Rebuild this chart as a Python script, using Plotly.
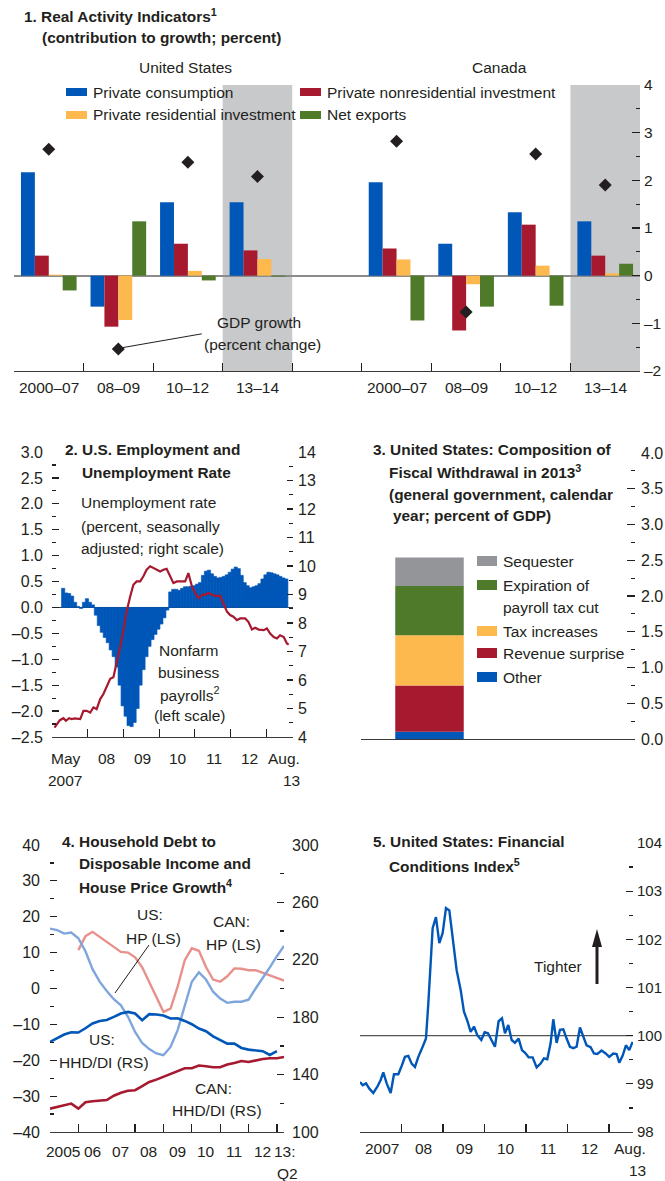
import plotly.graph_objects as go

W, H = 665, 1181
FONT = "Liberation Sans Narrow, Arial Narrow, Liberation Sans, Arial, sans-serif"
TXT = "#231f20"
BLUE = "#0057b8"
RED = "#a6192e"
YEL = "#fdb94d"
GRN = "#4e7a2a"
SHADE = "#c8c9cb"
GRAY = "#939598"
LBLUE = "#7ea6dd"
PINK = "#e8918c"
TS = 15.5   # annotation text size
BS = 15.4   # bold title size

# ---------------- Panel 1 data ----------------
p1_groups = ["2000–07", "08–09", "10–12", "13–14"]
us_consumption = [2.17, -0.65, 1.54, 1.54]
us_nonres = [0.42, -1.07, 0.67, 0.53]
us_resid = [0.02, -0.93, 0.10, 0.35]
us_netexp = [-0.31, 1.14, -0.10, -0.02]
us_gdp = [2.65, -1.54, 2.38, 2.08]
ca_consumption = [1.96, 0.67, 1.33, 1.14]
ca_nonres = [0.57, -1.15, 1.07, 0.42]
ca_resid = [0.34, -0.18, 0.21, 0.05]
ca_netexp = [-0.94, -0.65, -0.63, 0.25]
ca_gdp = [2.82, -0.76, 2.55, 1.90]
p1_series = ["Private consumption", "Private nonresidential investment",
             "Private residential investment", "Net exports"]

# ---------------- Panel 2 data ----------------
payroll_start = 2007.3125  # first month (May 2007), centre position in years
payrolls = [0.37, 0.28, 0.27, 0.22, 0.10, 0.02, -0.02, 0.10, 0.17, 0.10,
            0.05, -0.15, -0.35, -0.48, -0.58, -0.68, -0.82, -0.95, -1.15, -1.50,
            -1.90, -2.10, -2.28, -2.30, -2.22, -1.95, -1.50, -1.20, -0.95, -0.75,
            -0.62, -0.52, -0.42, -0.32, -0.20, -0.05, 0.30, 0.35, 0.35, 0.33,
            0.37, 0.40, 0.40, 0.41, 0.42, 0.45, 0.48, 0.62, 0.70, 0.72,
            0.65, 0.60, 0.57, 0.58, 0.60, 0.63, 0.68, 0.74, 0.78, 0.75,
            0.62, 0.48, 0.42, 0.38, 0.40, 0.42, 0.46, 0.55, 0.63, 0.68,
            0.67, 0.65, 0.63, 0.60, 0.57, 0.55]
unemp_x = [2007.07, 2007.15, 2007.22, 2007.32, 2007.39, 2007.48, 2007.55, 2007.64,
           2007.79, 2007.88, 2007.97, 2008.07, 2008.16, 2008.25, 2008.35, 2008.44,
           2008.53, 2008.63, 2008.72, 2008.81, 2008.91, 2009.00, 2009.09, 2009.19,
           2009.28, 2009.37, 2009.47, 2009.56, 2009.65, 2009.75, 2009.84, 2009.93,
           2010.03, 2010.12, 2010.21, 2010.31, 2010.40, 2010.50, 2010.59, 2010.73,
           2010.82, 2010.92, 2011.01, 2011.10, 2011.20, 2011.29, 2011.38, 2011.48,
           2011.57, 2011.71, 2011.80, 2011.90, 2011.99, 2012.08, 2012.18, 2012.27,
           2012.41, 2012.50, 2012.60, 2012.69, 2012.79, 2012.93, 2013.02, 2013.11,
           2013.21, 2013.30, 2013.39, 2013.49, 2013.58, 2013.63]
unemp = [4.33, 4.45, 4.59, 4.66, 4.57, 4.66, 4.63, 4.65,
         4.63, 4.92, 4.92, 4.86, 5.04, 4.98, 5.33, 5.51,
         5.75, 6.04, 6.10, 6.57, 7.16, 7.75, 8.40, 8.93,
         9.34, 9.46, 9.46, 9.64, 9.87, 9.99, 9.93, 9.87,
         9.81, 9.87, 9.90, 9.64, 9.40, 9.46, 9.46, 9.46,
         9.75, 9.28, 9.05, 8.87, 8.99, 8.99, 9.05, 8.99,
         8.95, 8.95, 8.69, 8.40, 8.28, 8.22, 8.10, 8.16,
         8.16, 8.04, 7.77, 7.83, 7.77, 7.75, 7.81, 7.63,
         7.51, 7.46, 7.57, 7.51, 7.28, 7.24]

# ---------------- Panel 3 data ----------------
fw_labels = ["Other", "Revenue surprise", "Tax increases",
             "Expiration of payroll tax cut", "Sequester"]
fw_values = [0.10, 0.65, 0.70, 0.69, 0.40]
fw_colors = [BLUE, RED, YEL, GRN, GRAY]

# ---------------- Panel 4 data (quarterly, 2005:Q1 - 2013:Q2) ----------------
q_start = 2005.0
us_hp = [16.7, 16.3, 15.3, 15.6, 14.0, 10.4, 5.4, 1.9, -0.7, -3.0,
         -4.7, -7.9, -12.1, -15.2, -16.9, -18.1, -18.6, -16.3, -11.6, -5.1,
         1.9, 4.5, 2.5, -0.9, -2.8, -4.0, -3.7, -3.7, -3.1, 0.0,
         2.8, 5.9, 9.0, 11.9]
can_hp = [None, None, None, None, 10.7, 14.6, 15.8, 14.4, 13.0, 11.6,
          10.2, 10.0, 8.7, 5.9, 1.9, -2.3, -6.5, -5.6, 0.5, 7.9,
          11.2, 10.5, 6.0, 2.5, 1.9, 3.4, 5.6, 5.5, 5.1, 5.1,
          4.4, 3.6, 2.9, 2.2]
us_hhd = [162.8, 165.3, 167.9, 169.5, 169.3, 172.3, 175.6, 177.4, 178.1, 180.2,
          182.6, 183.7, 182.6, 177.9, 182.1, 181.9, 181.2, 179.1, 179.3, 177.4,
          175.1, 172.1, 170.2, 166.7, 164.0, 161.6, 161.6, 158.6, 157.4, 157.0,
          156.3, 153.7, 156.3]
can_hhd = [116.3, 117.4, 118.4, 119.8, 116.3, 120.7, 121.4, 122.1, 122.3, 125.3,
           127.4, 128.8, 129.1, 131.9, 134.9, 136.5, 138.4, 140.7, 142.6, 144.4,
           144.4, 146.3, 145.8, 145.1, 145.1, 147.0, 148.1, 149.5, 148.8, 150.0,
           150.9, 151.4, 151.4, 152.3]

# ---------------- Panel 5 data ----------------
fci_x = [2007.000, 2007.064, 2007.145, 2007.225, 2007.321, 2007.418, 2007.498, 2007.562,
         2007.643, 2007.739, 2007.819, 2007.924, 2008.004, 2008.084, 2008.165, 2008.245,
         2008.325, 2008.406, 2008.510, 2008.590, 2008.647, 2008.703, 2008.751, 2008.831,
         2008.912, 2008.992, 2009.072, 2009.153, 2009.233, 2009.329, 2009.426, 2009.506,
         2009.586, 2009.667, 2009.747, 2009.827, 2009.924, 2010.004, 2010.084, 2010.165,
         2010.253, 2010.341, 2010.422, 2010.494, 2010.574, 2010.655, 2010.735, 2010.823,
         2010.904, 2010.984, 2011.064, 2011.161, 2011.257, 2011.353, 2011.434, 2011.514,
         2011.594, 2011.659, 2011.739, 2011.819, 2011.900, 2011.980, 2012.060, 2012.141,
         2012.221, 2012.301, 2012.382, 2012.462, 2012.558, 2012.639, 2012.719, 2012.823,
         2012.920, 2013.008, 2013.104, 2013.185, 2013.249, 2013.329, 2013.410, 2013.490,
         2013.570]
fci = [99.04, 98.97, 99.01, 98.90, 98.81, 98.94, 99.08, 99.24,
       99.01, 98.81, 99.20, 99.20, 99.37, 99.56, 99.58, 99.42,
       99.35, 99.56, 99.77, 99.94, 100.67, 101.57, 102.23, 102.46,
       101.92, 102.13, 102.65, 102.60, 102.06, 101.36, 100.95, 100.50,
       100.31, 100.08, 100.19, 100.01, 99.91, 100.07, 100.05, 99.91,
       99.77, 100.30, 100.36, 100.05, 100.22, 99.91, 99.85, 99.94,
       99.70, 99.64, 99.55, 99.55, 99.34, 99.42, 99.53, 99.51,
       99.84, 100.34, 99.85, 100.12, 100.13, 99.94, 99.77, 99.74,
       99.77, 100.17, 99.98, 99.80, 99.76, 99.63, 99.62, 99.69,
       99.63, 99.56, 99.63, 99.62, 99.44, 99.58, 99.80, 99.70,
       99.87]


def xd(a, b):
    return [a / W, b / W]


def yd(top, bottom):
    return [1 - bottom / H, 1 - top / H]


def fnt(size=16, color=TXT):
    return dict(family=FONT, size=size, color=color)


annotations = []
shapes = []


def txt(x, y, s, size=None, bold=False, anchor="left", xref="paper", yref="paper"):
    if size is None:
        size = BS if bold else TS
    if bold:
        s = "<b>" + s + "</b>"
    annotations.append(dict(
        x=x / W if xref == "paper" else x,
        y=1 - y / H if yref == "paper" else y,
        xref=xref, yref=yref, text=s, showarrow=False,
        xanchor=anchor, yanchor="middle", font=fnt(size)))


def dash(v):
    s = ("%g" % abs(v))
    return ("–" + s) if v < 0 else s


def dash1(v):
    s = ("%.1f" % abs(v))
    return ("–" + s) if v < -1e-9 else s


fig = go.Figure()

# ================= Panel 1 =================
us_slots = [0, 1, 2, 3]
ca_slots = [5, 6, 7, 8]
p1_vals = [(us_consumption, ca_consumption, BLUE),
           (us_nonres, ca_nonres, RED),
           (us_resid, ca_resid, YEL),
           (us_netexp, ca_netexp, GRN)]
for k, (uv, cv, col) in enumerate(p1_vals):
    fig.add_trace(go.Bar(
        x=us_slots + ca_slots, y=uv + cv, width=0.2, offset=-0.4 + 0.2 * k,
        marker=dict(color=col, line=dict(width=0)), name=p1_series[k],
        xaxis="x", yaxis="y", showlegend=False))
fig.add_trace(go.Scatter(
    x=us_slots + ca_slots, y=us_gdp + ca_gdp, mode="markers",
    marker=dict(symbol="diamond", size=10, color=TXT), xaxis="x", yaxis="y",
    showlegend=False, name="GDP growth"))

for s0 in (2.5, 7.5):
    shapes.append(dict(type="rect", xref="x", yref="y domain", x0=s0, x1=s0 + 1,
                       y0=0, y1=1, fillcolor=SHADE, line=dict(width=0), layer="below"))
# pointer from the 08-09 US GDP diamond to its label
shapes.append(dict(type="line", xref="x", yref="y", x0=us_slots[1] + 0.06, y0=us_gdp[1] + 0.03,
                   x1=2.2, y1=-1.22, line=dict(color=TXT, width=1)))

# ================= Panel 2 =================
pay_x = [payroll_start + i / 12 for i in range(len(payrolls))]
fig.add_trace(go.Bar(x=pay_x, y=payrolls, width=1 / 12 * 1.1,
                     marker=dict(color=BLUE, line=dict(width=0.6, color=BLUE)),
                     xaxis="x2", yaxis="y3", showlegend=False, name="Payrolls"))
fig.add_trace(go.Scatter(x=unemp_x, y=unemp, mode="lines",
                         line=dict(color=RED, width=2.2), xaxis="x2", yaxis="y4",
                         showlegend=False, name="Unemployment rate"))

# ================= Panel 3 =================
base = 0.0
for lab, v, col in zip(fw_labels, fw_values, fw_colors):
    fig.add_trace(go.Bar(x=[0.25], y=[v], base=[base], width=[0.25],
                         marker=dict(color=col, line=dict(width=0)),
                         xaxis="x3", yaxis="y5", showlegend=False, name=lab))
    base += v

# ================= Panel 4 =================
qx = [q_start + q / 4 for q in range(len(can_hhd))]
fig.add_trace(go.Scatter(x=qx, y=can_hp, mode="lines", line=dict(color=PINK, width=2.4),
                         xaxis="x4", yaxis="y7", showlegend=False, name="CAN HP"))
fig.add_trace(go.Scatter(x=qx, y=us_hp, mode="lines", line=dict(color=LBLUE, width=2.4),
                         xaxis="x4", yaxis="y7", showlegend=False, name="US HP"))
fig.add_trace(go.Scatter(x=qx[:len(us_hhd)], y=us_hhd, mode="lines",
                         line=dict(color=BLUE, width=2.6),
                         xaxis="x4", yaxis="y8", showlegend=False, name="US HHD/DI"))
fig.add_trace(go.Scatter(x=qx, y=can_hhd, mode="lines", line=dict(color=RED, width=2.6),
                         xaxis="x4", yaxis="y8", showlegend=False, name="CAN HHD/DI"))
shapes.append(dict(type="line", xref="paper", yref="paper", x0=115 / W, y0=1 - 993 / H,
                   x1=149 / W, y1=1 - 945 / H, line=dict(color=TXT, width=1)))

# ================= Panel 5 =================
fig.add_trace(go.Scatter(x=fci_x, y=fci, mode="lines", line=dict(color=BLUE, width=2.4),
                         xaxis="x5", yaxis="y9", showlegend=False, name="FCI"))
shapes.append(dict(type="line", xref="x5 domain", yref="y9", x0=0, x1=1, y0=100, y1=100,
                   line=dict(color="#555555", width=1.1), layer="below"))
# "Tighter" arrow: shaft + head
shapes.append(dict(type="line", xref="paper", yref="paper", x0=597 / W, x1=597 / W,
                   y0=1 - 984 / H, y1=1 - 944 / H, line=dict(color=TXT, width=3)))
shapes.append(dict(type="path", xref="paper", yref="paper",
                   path="M %f,%f L %f,%f L %f,%f Z" % (592 / W, 1 - 947 / H, 602 / W, 1 - 947 / H,
                                                       597 / W, 1 - 929 / H),
                   fillcolor=TXT, line=dict(width=0)))

# ================= Axes =================
TICK = dict(ticks="inside", tickcolor=TXT, tickwidth=1.2, showgrid=False, automargin=False)


def minor(dt, ln=4):
    return dict(dtick=dt, ticks="inside", ticklen=ln, tickcolor=TXT, tickwidth=1.2,
                showgrid=False)


def yaxis(domain, rng, side, vals, texts, ln, mdt, labels=True, overlay=None,
          anchor="x", standoff=6, zeroline=False, zl_color=TXT, zl_width=1, fsize=16):
    d = dict(range=rng, side=side, tickmode="array", tickvals=vals,
             ticklen=ln, minor=minor(mdt), showticklabels=labels, tickfont=fnt(fsize),
             showline=False, zeroline=zeroline, zerolinecolor=zl_color,
             zerolinewidth=zl_width, anchor=anchor, fixedrange=True, **TICK)
    if labels:
        d["ticktext"] = texts
        d["ticklabelstandoff"] = standoff
    if overlay:
        d["overlaying"] = overlay
    else:
        d["domain"] = domain
    return d


def xaxis(domain, rng, vals, anchor, ln=8):
    return dict(domain=domain, range=rng, tickmode="array", tickvals=vals,
                showticklabels=False, ticklen=ln, showline=True,
                linecolor="#3a3a3a", linewidth=1.4, zeroline=False, anchor=anchor,
                fixedrange=True, **TICK)


p1_yv = [-2, -1, 0, 1, 2, 3, 4]
p2_lv = [-2.5, -2.0, -1.5, -1.0, -0.5, 0.0, 0.5, 1.0, 1.5, 2.0, 2.5, 3.0]
p2_rv = list(range(4, 15))
p3_v = [0.0, 0.5, 1.0, 1.5, 2.0, 2.5, 3.0, 3.5, 4.0]
p4_lv = list(range(-40, 41, 10))
p4_rv = list(range(100, 301, 40))
p5_v = list(range(98, 105))

layout_axes = dict(
    # Panel 1
    xaxis=xaxis(xd(14, 640), [-0.5, 8.5], [0.5, 1.5, 2.5, 3.5, 4.5, 5.5, 6.5, 7.5], "y"),
    yaxis=yaxis(yd(85, 371), [-2, 4], "right", p1_yv, [dash(v) for v in p1_yv], 8, 0.5,
                anchor="x", zeroline=True, zl_color="#8c8c8c", zl_width=1.8, standoff=3,
                fsize=15.5),
    yaxis2=yaxis(None, [-2, 4], "left", p1_yv, None, 8, 0.5, labels=False,
                 overlay="y", anchor="x"),
    # Panel 2
    xaxis2=xaxis(xd(52, 293), [2007.0, 2013.75], list(range(2007, 2014)), "y3"),
    yaxis3=yaxis(yd(452, 737), [-2.5, 3.0], "left", p2_lv, [dash1(v) for v in p2_lv], 7,
                 0.25, anchor="x2", zeroline=True, zl_color="#3a3a3a", zl_width=1.2,
                 standoff=8),
    yaxis4=yaxis(None, [4, 14], "right", p2_rv, [str(v) for v in p2_rv], 6, 0.5,
                 overlay="y3", anchor="x2", standoff=4),
    # Panel 3
    xaxis3=dict(xaxis(xd(361, 635), [0, 1], [], "y5"), ticks=""),
    yaxis5=yaxis(yd(453, 739), [0, 4], "right", p3_v, ["%.1f" % v for v in p3_v], 8, 0.25,
                 anchor="x3", standoff=5),
    yaxis6=yaxis(None, [0, 4], "left", p3_v, None, 8, 0.25, labels=False,
                 overlay="y5", anchor="x3"),
    # Panel 4
    xaxis4=xaxis(xd(50, 284), [2005.0, 2013.25], list(range(2005, 2014)), "y7"),
    yaxis7=yaxis(yd(845, 1132), [-40, 40], "left", p4_lv, [dash(v) for v in p4_lv], 7, 5,
                 anchor="x4", standoff=9),
    yaxis8=yaxis(None, [100, 300], "right", p4_rv, [str(v) for v in p4_rv], 7, 20,
                 overlay="y7", anchor="x4", standoff=7),
    # Panel 5
    xaxis5=xaxis(xd(360, 633), [2007.0, 2013.58], list(range(2007, 2014)), "y9"),
    yaxis9=yaxis(yd(843, 1132), [98, 104], "right", p5_v, [str(v) for v in p5_v], 7, 0.5,
                 anchor="x5", standoff=3, fsize=15),
    yaxis10=yaxis(None, [98, 104], "left", p5_v, None, 7, 0.5, labels=False,
                  overlay="y9", anchor="x5"),
)

# ================= Text =================
# Panel 1
txt(22, 15, "1. Real Activity Indicators<sup>1</sup>", bold=True)
txt(40, 38, "(contribution to growth; percent)", bold=True)
txt(186, 67, "United States", anchor="center")
txt(499, 67, "Canada", anchor="center")
legend1 = [(66, 92, BLUE, p1_series[0]), (300, 92, RED, p1_series[1]),
           (66, 115, YEL, p1_series[2]), (300, 115, GRN, p1_series[3])]
for lx, ly, col, lab in legend1:
    shapes.append(dict(type="rect", xref="paper", yref="paper", x0=lx / W, x1=(lx + 21) / W,
                       y0=1 - (ly + 4) / H, y1=1 - (ly - 4) / H, fillcolor=col,
                       line=dict(width=0)))
    txt(lx + 25, ly, lab)
for i, g in enumerate(p1_groups):
    txt(us_slots[i], 387, g, anchor="center", xref="x")
    txt(ca_slots[i], 387, g, anchor="center", xref="x")
txt(259, 322, "GDP growth", anchor="center")
txt(262, 345, "(percent change)", anchor="center")

# Panel 2
txt(63, 449, "2. U.S. Employment and", bold=True)
txt(80, 472, "Unemployment Rate", bold=True)
txt(79, 503, "Unemployment rate")
txt(79, 526, "(percent, seasonally")
txt(79, 548, "adjusted; right scale)")
txt(188, 650, "Nonfarm", anchor="center")
txt(188, 672, "business", anchor="center")
txt(189, 694, "payrolls<sup>2</sup>", anchor="center")
txt(190, 716, "(left scale)", anchor="center")
txt(2007.39, 758, "May", anchor="center", xref="x2")
txt(2007.37, 780, "2007", anchor="center", xref="x2")
for yr, lab in zip([2008, 2009, 2010, 2011, 2012], ["08", "09", "10", "11", "12"]):
    txt(yr + 0.54, 758, lab, anchor="center", xref="x2")
txt(302, 758, "Aug.", anchor="right")
txt(302, 780, "13", anchor="right")

# Panel 3
txt(371, 449, "3. United States: Composition of", bold=True)
txt(387, 471, "Fiscal Withdrawal in 2013<sup>3</sup>", bold=True)
txt(387, 494, "(general government, calendar", bold=True)
txt(391, 515, "year; percent of GDP)", bold=True)
legend3 = [(561, GRAY, "Sequester"), (585, GRN, "Expiration of"),
           (631, YEL, "Tax increases"), (653, RED, "Revenue surprise"), (677, BLUE, "Other")]
for ly, col, lab in legend3:
    shapes.append(dict(type="rect", xref="paper", yref="paper", x0=477 / W, x1=497 / W,
                       y0=1 - (ly + 5) / H, y1=1 - (ly - 5) / H, fillcolor=col,
                       line=dict(width=0)))
    txt(501, ly, lab)
txt(501, 607, "payroll tax cut")

# Panel 4
txt(60, 841, "4. Household Debt to", bold=True)
txt(77, 863, "Disposable Income and", bold=True)
txt(77, 886, "House Price Growth<sup>4</sup>", bold=True)
txt(150, 915, "US:", anchor="center")
txt(153, 938, "HP (LS)", anchor="center")
txt(231, 921, "CAN:", anchor="center")
txt(233, 944, "HP (LS)", anchor="center")
txt(102, 1039, "US:", anchor="center")
txt(104, 1062, "HHD/DI (RS)", anchor="center")
txt(213, 1088, "CAN:", anchor="center")
txt(217, 1110, "HHD/DI (RS)", anchor="center")
txt(2005.46, 1151, "2005", anchor="center", xref="x4")
for yr, lab in zip([2006, 2007, 2008, 2009, 2010, 2011, 2012],
                   ["06", "07", "08", "09", "10", "11", "12"]):
    txt(yr + 0.49, 1151, lab, anchor="center", xref="x4")
txt(285, 1151, "13:", anchor="center")
txt(287, 1173, "Q2", anchor="center")

# Panel 5
txt(371, 841, "5. United States: Financial", bold=True)
txt(387, 865, "Conditions Index<sup>5</sup>", bold=True)
txt(558, 967, "Tighter", anchor="center")
for yr, lab in zip([2007, 2008, 2009, 2010, 2011, 2012],
                   ["2007", "08", "09", "10", "11", "12"]):
    txt(yr + 0.53, 1148, lab, anchor="center", xref="x5")
txt(648, 1148, "Aug.", anchor="right")
txt(648, 1170, "13", anchor="right")

fig.update_layout(
    template="none",
    width=W, height=H, margin=dict(l=0, r=0, t=0, b=0, pad=0, autoexpand=False),
    paper_bgcolor="white", plot_bgcolor="rgba(0,0,0,0)",
    barmode="overlay", showlegend=False, font=fnt(16),
    annotations=annotations, shapes=shapes, **layout_axes)

fig.write_html("out.html", config={"displayModeBar": False, "staticPlot": True},
               post_script="document.body.style.margin='0';document.body.style.padding='0';")
